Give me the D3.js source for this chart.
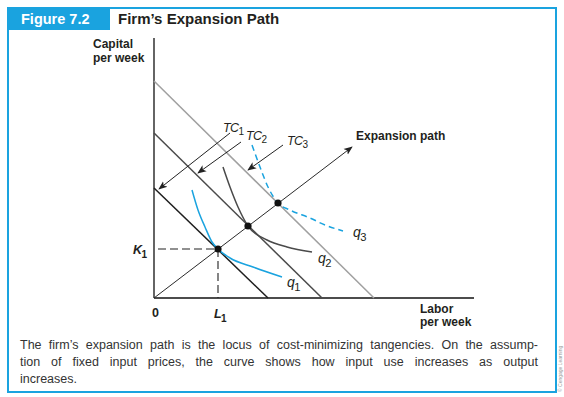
<!DOCTYPE html>
<html>
<head>
<meta charset="utf-8">
<script src="https://cdn.jsdelivr.net/npm/d3@7"></script>
<style>
  body { margin: 0; background: #fff; }
  svg { display: block; font-family: "Liberation Sans", Arial, sans-serif; }
</style>
</head>
<body>
<div id="chart"></div>
<script>
// budget lines: capital intercept (k) and labor intercept (l)
const tcLines = [
  { name: "TC", sub: "1", k: 11.0, l: 11.4, color: "#1e1e1e" },
  { name: "TC", sub: "2", k: 16.5, l: 16.8, color: "#4a4a4a" },
  { name: "TC", sub: "3", k: 21.7, l: 22.0, color: "#a0a0a0" }
];
// isoquants (labor, capital)
const q1 = [[3.8, 10.8], [4.4, 8.8], [5.1, 7.1], [5.8, 5.6], [6.4, 4.9], [7.6, 4.0], [9.9, 3.1], [12.8, 2.1]];
const q2 = [[6.9, 13.1], [7.6, 11.1], [8.4, 9.1], [9.4, 7.2], [11.3, 5.8], [13.3, 5.1], [15.8, 4.6]];
const q3 = [[9.8, 15.3], [10.6, 13.1], [11.4, 11.1], [12.4, 9.5], [13.6, 8.8], [15.6, 8.0], [17.1, 7.3], [18.9, 6.7]];
const tangency = [[6.4, 4.9], [9.4, 7.2], [12.4, 9.5]];
const expansionEnd = [19.8, 15.1];
const L1 = 6.4, K1 = 4.9;
// arrows from TC labels to lines
const tcArrows = [
  [[7.6, 16.5], [0.5, 10.9]],
  [[8.7, 15.6], [4.4, 12.5]],
  [[12.9, 15.3], [9.4, 12.8]]
];
const tcLabelPos = [[6.9, 16.6], [9.2, 15.8], [13.3, 15.3]];
const qLabels = [
  { sub: "1", at: [13.3, 1.1] },
  { sub: "2", at: [16.4, 3.5] },
  { sub: "3", at: [19.9, 6.1] }
];
const caption = [
  "The firm\u2019s expansion path is the locus of cost-minimizing tangencies. On the assump-",
  "tion of fixed input prices, the curve shows how input use increases as output",
  "increases."
];

const W = 564, H = 397;
const blue = "#1aa3df";
const svg = d3.select("#chart").append("svg").attr("width", W).attr("height", H);

// frame
svg.append("rect").attr("x", 8).attr("y", 8).attr("width", 548).attr("height", 384)
  .attr("fill", "none").attr("stroke", blue).attr("stroke-width", 2);
svg.append("rect").attr("x", 7).attr("y", 7).attr("width", 103).attr("height", 23).attr("fill", blue);
svg.append("text").attr("x", 21).attr("y", 24).attr("fill", "#fff")
  .attr("font-size", 14.5).attr("font-weight", "bold").text("Figure 7.2");
svg.append("text").attr("x", 118).attr("y", 24).attr("fill", "#231f20")
  .attr("font-size", 15).attr("font-weight", "bold").text("Firm\u2019s Expansion Path");

const x = d3.scaleLinear([0, 32], [154, 474]);
const y = d3.scaleLinear([0, 26], [298, 38]);

const defs = svg.append("defs");
defs.append("marker").attr("id", "arr").attr("viewBox", "0 0 10 10")
  .attr("refX", 9).attr("refY", 5).attr("markerWidth", 9).attr("markerHeight", 9)
  .attr("markerUnits", "userSpaceOnUse").attr("orient", "auto")
  .append("path").attr("d", "M0,1 L10,5 L0,9 L2.5,5 Z").attr("fill", "#222");

const g = svg.append("g");
const line = d3.line().x(d => x(d[0])).y(d => y(d[1]));
const curve = d3.line().x(d => x(d[0])).y(d => y(d[1])).curve(d3.curveMonotoneX);

// axes
g.append("line").attr("x1", x(0)).attr("x2", x(0)).attr("y1", y(0)).attr("y2", y(26))
  .attr("stroke", "#111").attr("stroke-width", 1.3);
g.append("line").attr("x1", x(0)).attr("x2", x(32)).attr("y1", y(0)).attr("y2", y(0))
  .attr("stroke", "#111").attr("stroke-width", 1.3);

// dashed guides
g.append("path").attr("d", line([[0.4, K1], [L1, K1], [L1, 0]]))
  .attr("fill", "none").attr("stroke", "#222").attr("stroke-width", 1.1).attr("stroke-dasharray", "8,4");

// TC lines
g.selectAll(".tc").data(tcLines).join("line").attr("class", "tc")
  .attr("x1", x(0)).attr("y1", d => y(d.k)).attr("x2", d => x(d.l)).attr("y2", y(0))
  .attr("stroke", d => d.color).attr("stroke-width", 1.5);

// expansion path
g.append("path").attr("d", line([[0, 0], expansionEnd])).attr("stroke", "#2a2a2a")
  .attr("stroke-width", 1).attr("fill", "none").attr("marker-end", "url(#arr)");

// isoquants
g.append("path").attr("d", curve(q1)).attr("fill", "none").attr("stroke", blue).attr("stroke-width", 1.5);
g.append("path").attr("d", curve(q2)).attr("fill", "none").attr("stroke", "#4a4a4a").attr("stroke-width", 1.5);
g.append("path").attr("d", curve(q3)).attr("fill", "none").attr("stroke", blue).attr("stroke-width", 1.5)
  .attr("stroke-dasharray", "6,4");

// tangency points
g.selectAll(".pt").data(tangency).join("circle").attr("class", "pt")
  .attr("cx", d => x(d[0])).attr("cy", d => y(d[1])).attr("r", 3.6).attr("fill", "#111");

// TC arrows
g.selectAll(".tca").data(tcArrows).join("path").attr("class", "tca")
  .attr("d", d => line(d)).attr("stroke", "#222").attr("stroke-width", 1)
  .attr("fill", "none").attr("marker-end", "url(#arr)");

function label(px, py, main, sub, size, italic, subDy) {
  const t = g.append("text").attr("x", px).attr("y", py).attr("fill", "#231f20")
    .attr("font-size", size).attr("font-style", italic ? "italic" : null);
  t.append("tspan").attr("letter-spacing", -0.6).text(main);
  if (sub) t.append("tspan").attr("dy", subDy || 4).attr("font-size", size * 0.8)
    .attr("font-style", "normal").text(sub);
  return t;
}
tcLines.forEach((d, i) => label(x(tcLabelPos[i][0]), y(tcLabelPos[i][1]), d.name, d.sub, 12.5, true, 3));
qLabels.forEach(d => label(x(d.at[0]), y(d.at[1]), "q", d.sub, 14, true));
label(133, 254, "K", "1", 12.5, true).attr("font-weight", "bold");
label(214, 318, "L", "1", 12.5, true).attr("font-weight", "bold");
g.append("text").attr("x", x(0) - 2).attr("y", 317).attr("font-size", 12.5)
  .attr("font-weight", "bold").attr("fill", "#231f20").text("0");

// axis titles
const ytitle = g.append("text").attr("x", 93).attr("y", 48).attr("font-size", 12)
  .attr("font-weight", "bold").attr("fill", "#231f20");
ytitle.append("tspan").attr("x", 93).text("Capital");
ytitle.append("tspan").attr("x", 93).attr("dy", 14).text("per week");
const xtitle = g.append("text").attr("x", 420).attr("y", 313).attr("font-size", 12)
  .attr("font-weight", "bold").attr("fill", "#231f20");
xtitle.append("tspan").attr("x", 420).text("Labor");
xtitle.append("tspan").attr("x", 420).attr("dy", 13).text("per week");
g.append("text").attr("x", 356).attr("y", 140).attr("font-size", 12)
  .attr("font-weight", "bold").attr("fill", "#231f20").text("Expansion path");

// caption, justified on the first two lines
const capG = svg.append("g").attr("font-size", 12.5).attr("fill", "#333");
const left = 20, right = 538;
caption.forEach((ln, i) => {
  const yy = 349 + i * 17;
  if (i === caption.length - 1) {
    capG.append("text").attr("x", left).attr("y", yy).text(ln);
    return;
  }
  const words = ln.split(" ");
  const nodes = words.map(w => capG.append("text").attr("y", yy).text(w));
  const widths = nodes.map(n => n.node().getComputedTextLength());
  const gap = (right - left - d3.sum(widths)) / (words.length - 1);
  let cx = left;
  nodes.forEach((n, j) => { n.attr("x", cx); cx += widths[j] + gap; });
});

// side credit
svg.append("text").attr("transform", "translate(562,392) rotate(-90)")
  .attr("font-size", 5).attr("fill", "#999").text("\u00a9 Cengage Learning");
</script>
</body>
</html>
